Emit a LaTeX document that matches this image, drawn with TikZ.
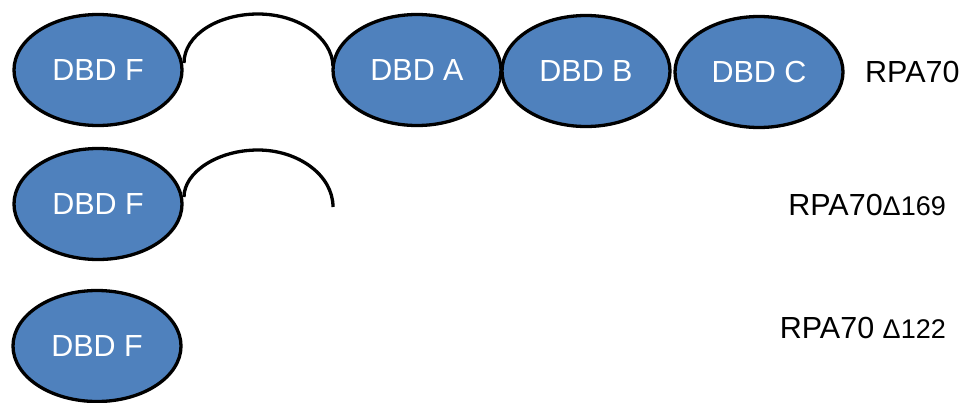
\documentclass[tikz,border=0pt]{standalone}
\usepackage{fontspec}
\setmainfont{Liberation Sans}
\usetikzlibrary{shapes.geometric}
\definecolor{dbdblue}{HTML}{4F81BD}
\tikzset{
  dbd/.style={ellipse, draw=black, line width=3.3pt, fill=dbdblue, minimum width=168pt, minimum height=111pt, inner sep=0pt, text=white, font=\fontsize{30.5}{36}\selectfont},
  linker/.style={draw=black, line width=3.3pt},
  lbl/.style={font=\fontsize{30.5}{36}\selectfont, inner sep=0pt, text=black},
}
\newcommand{\dsmall}[1]{{\fontsize{27}{32}\selectfont #1}}
\begin{document}
\begin{tikzpicture}[x=1pt, y=-1pt]
\useasboundingbox (0,0) rectangle (964,402);
% row 1
\node[dbd] (F1) at (98,70) {DBD F};
\node[dbd] (A) at (417,70) {DBD A};
\node[dbd] (B) at (586,71) {DBD B};
\node[dbd] (C) at (759,72) {DBD C};
\node[lbl, anchor=west] (L1) at (865,72) {RPA70};
\coordinate (T1) at (258,14);
\draw[linker] (184,63) .. controls (184,35) and (218,14) .. (T1)
  .. controls (298,14) and (332,37) .. (333,66);
% row 2
\node[dbd] (F2) at (98,204) {DBD F};
\coordinate (T2) at (258,150);
\coordinate (E2) at (333,207);
\draw[linker] (184,197) .. controls (184,172) and (218,150) .. (T2)
  .. controls (298,150) and (333,175) .. (E2);
\node[lbl, anchor=east] (L2) at (946,205) {RPA70\dsmall{Δ169}};
% row 3
\node[dbd] (F3) at (97,346) {DBD F};
\node[lbl, anchor=east] (L3) at (946,328) {RPA70 \dsmall{Δ122}};
\end{tikzpicture}
\end{document}
